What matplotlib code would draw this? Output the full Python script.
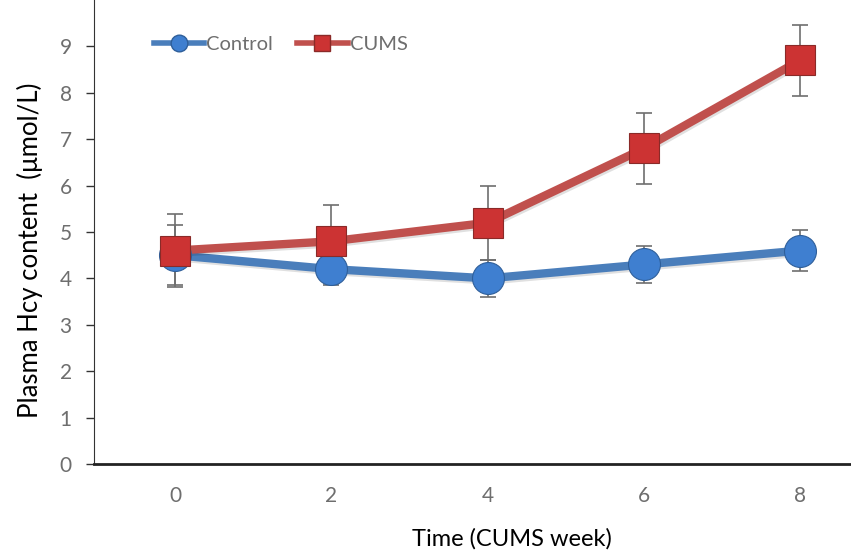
import numpy as np
import matplotlib.pyplot as plt
import matplotlib.patheffects as pe

weeks = [0, 2, 4, 6, 8]
control = [4.5, 4.2, 4.0, 4.3, 4.6]
control_err = [0.65, 0.35, 0.4, 0.4, 0.45]
cums = [4.6, 4.8, 5.2, 6.8, 8.7]
cums_err = [0.78, 0.78, 0.8, 0.77, 0.77]

blue = "#4a7ebb"
blue_mk = "#3f7fd0"
red = "#c0504d"
red_mk = "#cc3333"
grey = "#6e6e6e"

plt.rcParams['font.family'] = ['Lato', 'DejaVu Sans']

fig = plt.figure(figsize=(8.51, 5.59), dpi=100)
ax = fig.add_axes([94 / 851, (559 - 464) / 559, 1 - 94 / 851, 464 / 559])

shadow = [pe.SimpleLineShadow(offset=(1, -1.5), shadow_color='k', alpha=0.12), pe.Normal()]

for y, err, col, mk, mcol, lab in [(control, control_err, blue, 'o', blue_mk, 'Control'),
                                    (cums, cums_err, red, 's', red_mk, 'CUMS')]:
    ax.errorbar(weeks, y, yerr=err, fmt='none', ecolor=grey, elinewidth=1.2,
                capsize=6, capthick=1.2, zorder=2)
    ax.plot(weeks, y, color=col, lw=6, solid_capstyle='butt', zorder=3,
            path_effects=shadow)
    ax.plot(weeks, y, linestyle='none', marker=mk, ms=22 if mk == 's' else 23,
            mfc=mcol, mec='#8a2a28' if mk == 's' else '#2f5f9a', mew=0.8,
            zorder=4, label=lab)

# legend entries: line + marker
h1, = ax.plot([], [], color=blue, lw=4, marker='o', ms=12, mfc=blue_mk, mec='#2f5f9a')
h2, = ax.plot([], [], color=red, lw=4, marker='s', ms=12, mfc=red_mk, mec='#8a2a28')
ax.legend([h1, h2], ['Control', 'CUMS'], loc='center left', bbox_to_anchor=(0.055, 0.905),
          ncol=2, frameon=False, handlelength=2.5, handletextpad=0.1, columnspacing=1.2,
          prop={'size': 14.5}, labelcolor=grey)

ax.set_xlim(-1.04, 8.65)
ax.set_ylim(0, 10)
ax.set_yticks(range(0, 10))
ax.set_xticks(weeks)
ax.tick_params(axis='y', direction='out', length=6, width=1, colors='#333333',
               labelcolor=grey, labelsize=15, pad=10)
ax.tick_params(axis='x', length=0, labelcolor=grey, labelsize=15, pad=16)

ax.spines['top'].set_visible(False)
ax.spines['right'].set_visible(False)
ax.spines['left'].set_color('#333333')
ax.spines['bottom'].set_linewidth(2)
ax.spines['bottom'].set_color('#222222')

ax.set_ylabel('Plasma Hcy content  (μmol/L)', fontsize=18.5)
ax.set_xlabel('Time (CUMS week)', fontsize=17)
ax.yaxis.set_label_coords(-0.067, 0.46)
ax.xaxis.set_label_coords(0.552, -0.137)

fig.savefig('out.png', dpi=100)
